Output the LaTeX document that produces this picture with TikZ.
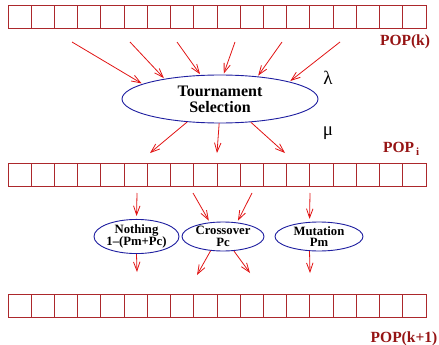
\documentclass[tikz,border=0pt]{standalone}
\usepackage{fontspec}
\setmainfont{Liberation Serif}
\usetikzlibrary{arrows.meta,shapes.geometric}
\definecolor{rowred}{RGB}{172,40,44}
\definecolor{labred}{RGB}{150,20,20}
\definecolor{arrred}{RGB}{225,20,20}
\definecolor{ellblue}{RGB}{30,30,160}

\begin{document}
\begin{tikzpicture}
    \tikzset{x={(1pt, 0pt)}, y={(0pt, -1pt)}}
    \tikzset{
        cell/.style={draw=rowred, line width=0.9pt},
        oper/.style={ellipse, draw=ellblue, line width=0.9pt, inner sep=0pt, align=center,
                     font=\fontsize{12.7}{11.5}\selectfont\bfseries},
        feed/.style={draw=arrred, line width=0.8pt, -{Straight Barb[length=9pt,width=6.5pt]}},
        poplabel/.style={text=labred, font=\fontsize{15.5}{17}\selectfont\bfseries},
        greek/.style={font=\fontsize{19}{19}\selectfont}
    }
    \useasboundingbox (0,0) rectangle (439,345);
    % the three populations
    \foreach \rowy in {5, 163, 294} {
        \foreach \i in {0,...,17}
            \draw[cell] (8+23.222*\i, \rowy) rectangle ++(23.222, 23.5);
    }
    \node[poplabel] (popk) at (405,42) {POP(k)};
    \node[poplabel, anchor=base west, inner sep=0pt] (popi) at (383,152)
        {POP\hspace{2pt}\raisebox{-3pt}{\fontsize{11}{11}\selectfont i}};
    \node[poplabel] (popkk) at (404,338.5) {POP(k+1)};
    % selection
    \node[ellipse, draw=ellblue, line width=0.9pt, inner sep=0pt, align=center,
          minimum width=196, minimum height=48,
          font=\fontsize{16}{16}\selectfont\bfseries] (ts) at (220,99) {Tournament\\Selection};
    \node[greek] (lam) at (328,78) {λ};
    \node[greek] (mu) at (328,133) {μ};
    \foreach \sx/\ang [count=\n] in {72/169, 130/160, 177/129, 235/82, 282/31, 340/14} {
        \coordinate (in\n) at (\sx,42);
        \draw[feed, shorten >=1pt] (in\n) -- (ts.\ang);
    }
    \foreach \ex/\ang [count=\n] in {150/215, 217/268, 285/323} {
        \coordinate (out\n) at (\ex,153);
        \draw[feed] (ts.\ang) -- (out\n);
    }
    % operators
    \node[oper, minimum width=81, minimum height=29] (noth) at (136.5,236.5) {Nothing\\1–(Pm+Pc)};
    \node[oper, minimum width=82, minimum height=29] (cross) at (223,236.5) {Crossover\\Pc};
    \node[oper, minimum width=88, minimum height=29] (mut) at (319,236.5) {Mutation\\Pm};
    \coordinate (a1) at (137,193);
    \coordinate (a2) at (193,193);
    \coordinate (a3) at (252,193);
    \coordinate (a4) at (310,193);
    \draw[feed, shorten >=3pt] (a1) -- (noth.north);
    \draw[feed, shorten >=2pt] (a2) -- (cross.133);
    \draw[feed, shorten >=2pt] (a3) -- (cross.45);
    \draw[feed, shorten >=3pt] (a4) -- (mut.123);
    \coordinate (b1) at (137,272);
    \coordinate (b2) at (197,275);
    \coordinate (b3) at (250,273);
    \coordinate (b4) at (310,273);
    \draw[feed] (noth.south) -- (b1);
    \draw[feed] (cross.229) -- (b2);
    \draw[feed] (cross.307) -- (b3);
    \draw[feed] (mut.237) -- (b4);
\end{tikzpicture}
\end{document}
